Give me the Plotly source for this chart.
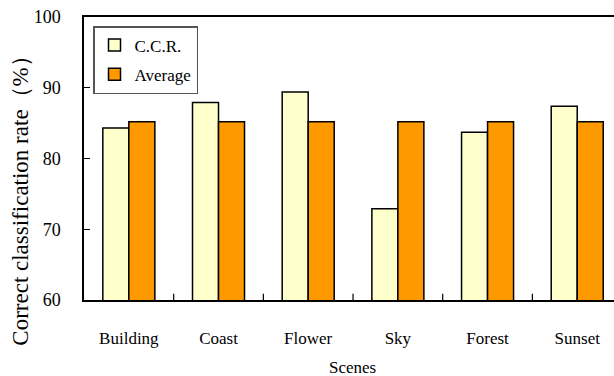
import plotly.graph_objects as go

categories = ["Building", "Coast", "Flower", "Sky", "Forest", "Sunset"]
ccr = [84.3, 87.9, 89.4, 72.9, 83.7, 87.4]
average = [85.2, 85.2, 85.2, 85.2, 85.2, 85.2]
yticks = [60, 70, 80, 90, 100]

FONT = "Liberation Serif"

fig = go.Figure()
fig.add_trace(go.Bar(x=categories, y=ccr, name="C.C.R.", legendgroup="a",
                     marker=dict(color="#FFFFCC", line=dict(color="#000000", width=1.5))))
fig.add_trace(go.Bar(x=categories, y=average, name="Average", legendgroup="b",
                     marker=dict(color="#FF9900", line=dict(color="#000000", width=1.5))))

fig.update_layout(
    width=614, height=376,
    margin=dict(l=84, r=0, t=17, b=76),
    paper_bgcolor="white", plot_bgcolor="white",
    barmode="group", bargap=0.42, bargroupgap=0,
    font=dict(family=FONT, size=16, color="#000000"),
    showlegend=True,
    legend=dict(x=0.017, y=0.968, xanchor="left", yanchor="top",
                bordercolor="#555555", borderwidth=1.5, bgcolor="white",
                font=dict(family=FONT, size=17), tracegroupgap=4, itemwidth=30),
    xaxis=dict(range=[-0.5, 5.41], showline=True, linecolor="#000000", linewidth=1.5,
               mirror=True, ticks="", showgrid=False, tickfont=dict(family=FONT, size=17),
               ticklabelstandoff=22),
    yaxis=dict(range=[60, 100], tickvals=yticks, showline=True, linecolor="#000000",
               linewidth=1.5, ticks="inside", ticklen=6, tickcolor="#000000",
               showgrid=False, zeroline=False, tickfont=dict(family=FONT, size=18),
               ticklabelstandoff=18),
    annotations=[
        dict(text="Scenes", xref="paper", yref="paper", x=0.5075, y=-0.24,
             xanchor="center", yanchor="middle", showarrow=False,
             font=dict(family=FONT, size=17)),
        dict(text="Correct classification rate（%）", xref="paper", yref="paper",
             x=-0.12, y=0.37, xanchor="center", yanchor="middle", textangle=-90,
             showarrow=False, font=dict(family=FONT, size=23)),
    ],
)

# category boundary ticks on the x axis (inside, pointing up)
for i in range(len(categories) - 1):
    fig.add_shape(type="line", xref="x", yref="paper", x0=i + 0.5, x1=i + 0.5,
                  y0=0, y1=0.022, line=dict(color="#000000", width=1.2))

fig.write_html("out.html", config={"displayModeBar": False},
               post_script="document.body.style.margin='0';")
